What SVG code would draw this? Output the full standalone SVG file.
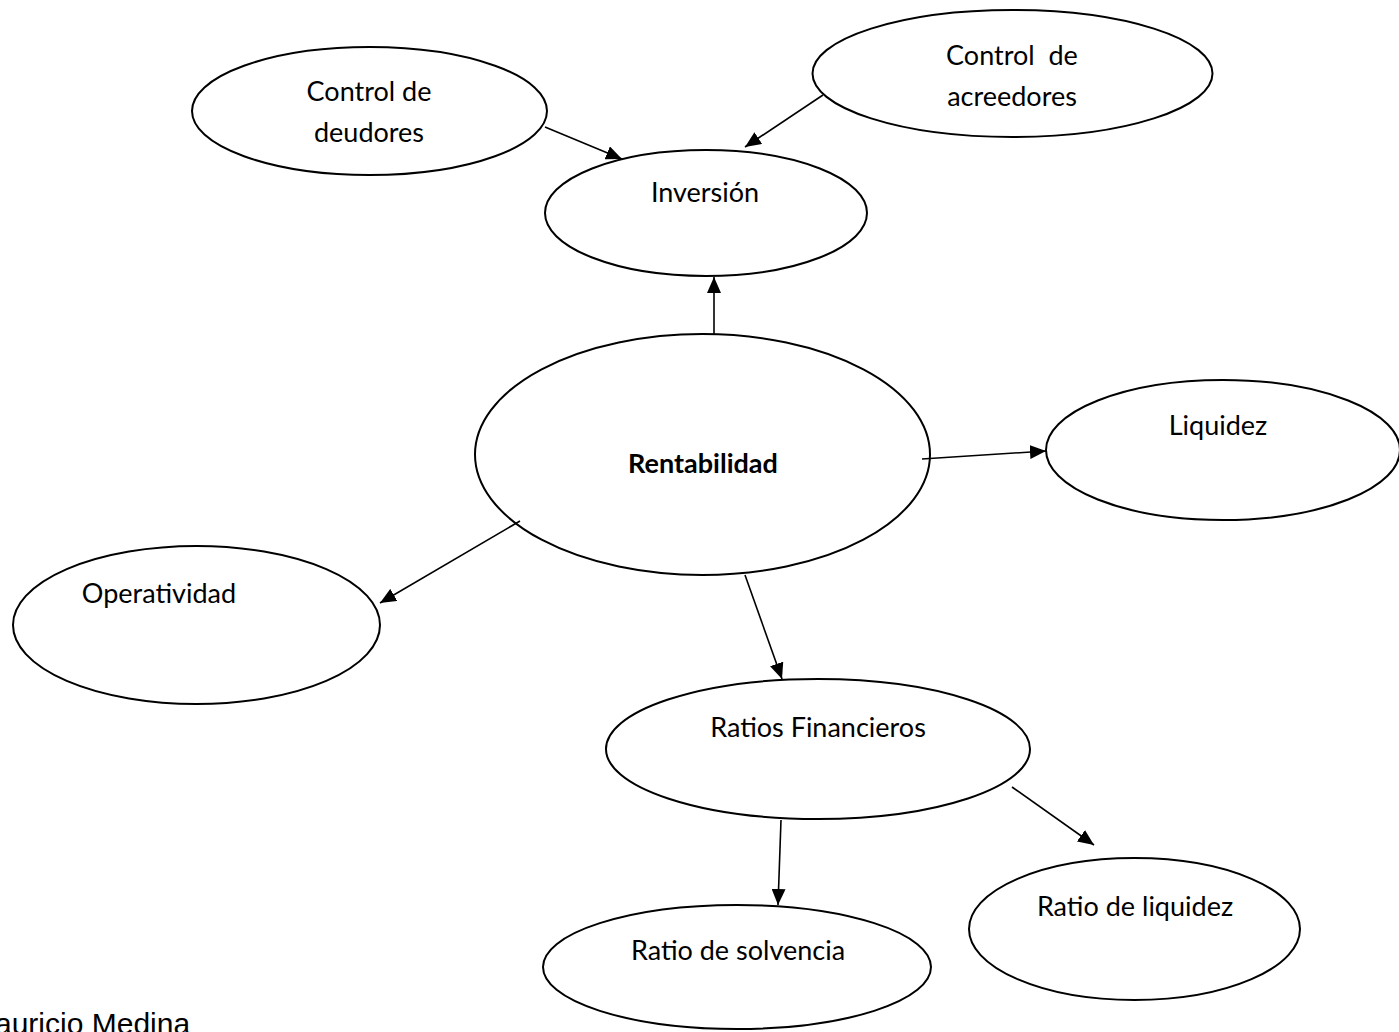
<svg xmlns="http://www.w3.org/2000/svg" width="1399" height="1032" viewBox="0 0 1399 1032">
<style>
.node ellipse{fill:#fff;stroke:#000;stroke-width:2}
.node text{font-family:Lato,"Liberation Sans",sans-serif;font-size:27px;fill:#000;text-anchor:middle}
.conn line{stroke:#000;stroke-width:1.6;fill:none}
.author{font-family:"Liberation Sans",Arial,sans-serif;font-size:30px;fill:#000}
</style>
<defs>
<marker id="ah" markerUnits="userSpaceOnUse" markerWidth="17" markerHeight="14" refX="16" refY="7" orient="auto">
<path d="M0,0 L16,7 L0,14 z" fill="#000"/>
</marker>
</defs>
<rect width="1399" height="1032" fill="#fff"/>
<g id="n-deudores" class="node">
<ellipse cx="369.5" cy="111" rx="177.5" ry="64"/>
<text x="369" y="101">Control de</text>
<text x="369" y="142">deudores</text>
</g>
<g id="n-acreedores" class="node">
<ellipse cx="1012.5" cy="73.5" rx="200" ry="63.5"/>
<text x="1012" y="65" xml:space="preserve">Control  de</text>
<text x="1012" y="106">acreedores</text>
</g>
<g id="n-inversion" class="node">
<ellipse cx="706" cy="213" rx="161" ry="63"/>
<text x="705" y="202">Inversión</text>
</g>
<g id="n-rentabilidad" class="node">
<ellipse cx="702.5" cy="454.5" rx="227.5" ry="120.5"/>
<text x="703" y="473" font-weight="bold">Rentabilidad</text>
</g>
<g id="n-liquidez" class="node">
<ellipse cx="1223" cy="450" rx="177" ry="70"/>
<text x="1218" y="435">Liquidez</text>
</g>
<g id="n-operatividad" class="node">
<ellipse cx="196.5" cy="625" rx="183.5" ry="79"/>
<text x="159" y="603">Operatividad</text>
</g>
<g id="n-ratios" class="node">
<ellipse cx="818" cy="749" rx="212" ry="70"/>
<text x="818" y="737">Ratios Financieros</text>
</g>
<g id="n-solvencia" class="node">
<ellipse cx="737" cy="967" rx="194" ry="62"/>
<text x="738" y="960">Ratio de solvencia</text>
</g>
<g id="n-ratio-liquidez" class="node">
<ellipse cx="1134.5" cy="929" rx="165.5" ry="71"/>
<text x="1135" y="916">Ratio de liquidez</text>
</g>
<g id="connectors" class="conn">
<line x1="545" y1="127" x2="622" y2="159" marker-end="url(#ah)"/>
<line x1="823" y1="95" x2="745" y2="147" marker-end="url(#ah)"/>
<line x1="714" y1="334" x2="714" y2="277" stroke-width="2" marker-end="url(#ah)"/>
<line x1="922" y1="459" x2="1046" y2="451" stroke-width="2" marker-end="url(#ah)"/>
<line x1="520" y1="521" x2="380" y2="603" marker-end="url(#ah)"/>
<line x1="745" y1="575" x2="782" y2="679" marker-end="url(#ah)"/>
<line x1="781" y1="820" x2="778" y2="905" marker-end="url(#ah)"/>
<line x1="1012" y1="787" x2="1094" y2="845" marker-end="url(#ah)"/>
</g>
<text class="author" x="-5" y="1034">auricio Medina</text>
</svg>
